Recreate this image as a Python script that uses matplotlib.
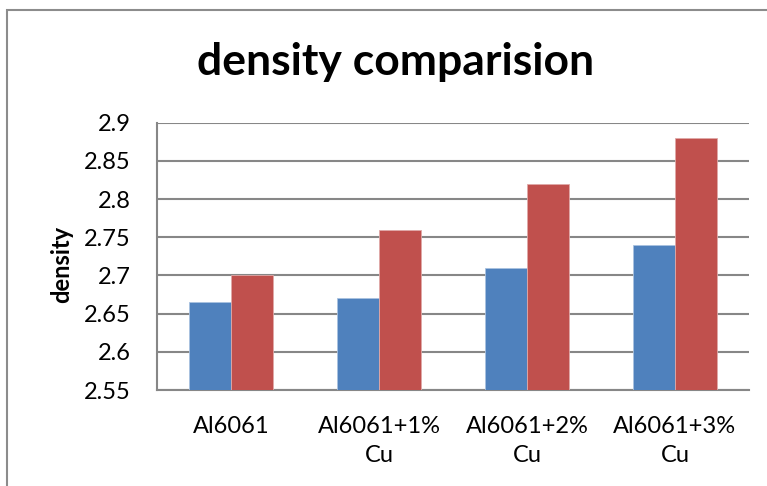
import numpy as np
import matplotlib.pyplot as plt
from matplotlib.patches import Rectangle

categories = ["Al6061", "Al6061+1%\nCu", "Al6061+2%\nCu", "Al6061+3%\nCu"]
series_a = [2.665, 2.67, 2.71, 2.74]
series_b = [2.70, 2.76, 2.82, 2.88]
yticks = [2.55, 2.6, 2.65, 2.7, 2.75, 2.8, 2.85, 2.9]
ytick_labels = ["2.55", "2.6", "2.65", "2.7", "2.75", "2.8", "2.85", "2.9"]

plt.rcParams["font.family"] = ["Lato", "DejaVu Sans"]

fig = plt.figure(figsize=(7.67, 4.86), dpi=100)
ax = fig.add_axes([0.2047, 0.1975, 0.7718, 0.55])

# chart frame (only left and top edges fall inside the image)
fig.patches.append(Rectangle((0.0095, -0.1), 1.2, 1.079, transform=fig.transFigure,
                             fill=False, edgecolor="#8c8c8c", linewidth=1.5))

x = np.arange(len(categories))
w = 0.2857
ax.bar(x - w / 2, series_a, w, color="#4F81BD", edgecolor="#a9c2e0", linewidth=0.6, zorder=3)
ax.bar(x + w / 2, series_b, w, color="#C0504D", edgecolor="#e0a9a8", linewidth=0.6, zorder=3)

ax.set_xlim(-0.5, len(categories) - 0.5)
ax.set_ylim(2.55, 2.9)
ax.set_yticks(yticks)
ax.set_yticklabels(ytick_labels, fontsize=17)
ax.set_xticks(x)
ax.set_xticklabels(categories, fontsize=17, linespacing=1.45)
ax.tick_params(length=0)
ax.tick_params(axis="y", pad=19)
ax.tick_params(axis="x", pad=19)
ax.grid(axis="y", color="#878787", linewidth=1.5, zorder=0)
for s in ["top", "right"]:
    ax.spines[s].set_visible(False)
for s in ["left", "bottom"]:
    ax.spines[s].set_color("#878787")
    ax.spines[s].set_linewidth(1.5)

ax.set_ylabel("density", fontsize=17, fontweight="bold")
ax.yaxis.set_label_coords(-0.142, 0.47)
fig.text(0.516, 0.872, "density comparision", ha="center", va="center",
         fontsize=32, fontweight="bold")

fig.savefig("out.png", dpi=100)
